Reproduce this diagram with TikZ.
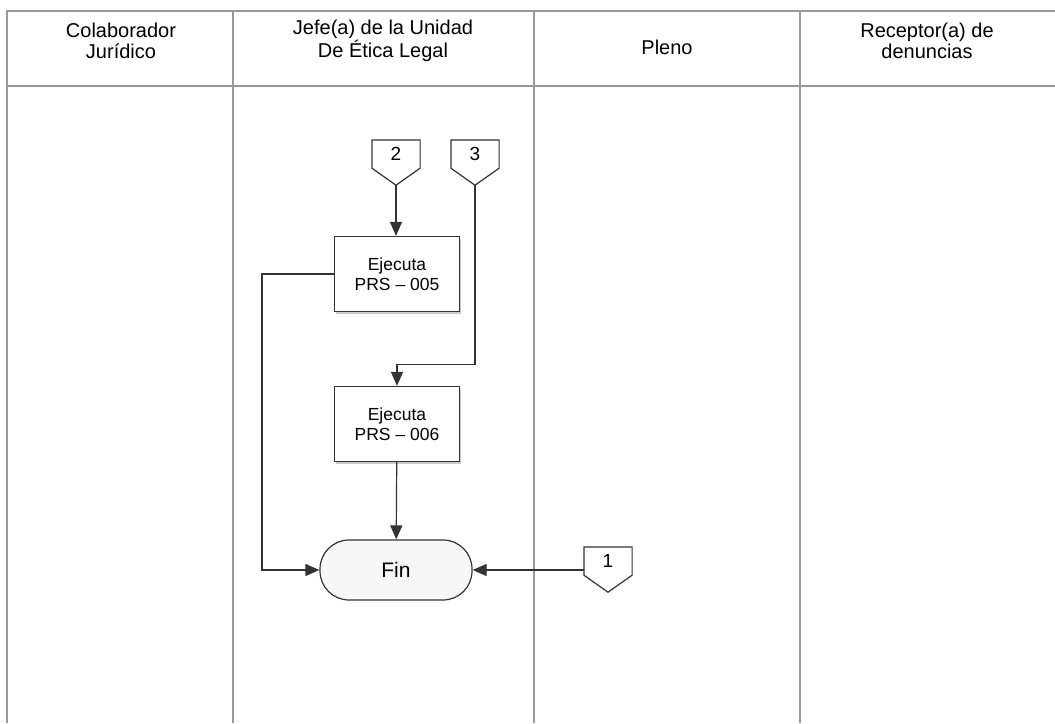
\documentclass[tikz,border=0pt]{standalone}
\usepackage{fontspec}
\setmainfont{Liberation Sans}
\usetikzlibrary{arrows.meta,shadows}

\begin{document}
\begin{tikzpicture}[x=1pt,y=-1pt,line width=1.2pt,
  lane/.style={draw=gray!80,line width=1.7pt},
  head/.style={align=center,font=\fontsize{20}{21}\selectfont},
  task/.style={draw=black!80,fill=white,minimum width=125pt,minimum height=75pt,
    align=center,font=\fontsize{17.5}{20}\selectfont,
    drop shadow={shadow xshift=1.5pt,shadow yshift=-2pt,fill=gray!80}},
  terminal/.style={draw=black!80,fill=gray!6,rounded corners=29pt,
    minimum width=152pt,minimum height=60pt,font=\fontsize{21}{24}\selectfont},
  offpage/.style={anchor=north,inner sep=0pt,minimum width=47pt,minimum height=27pt,
    font=\fontsize{19}{22}\selectfont},
  flow/.style={draw=black!80,-{Triangle[length=14pt,width=12pt]}}]
 \useasboundingbox (0,0) rectangle (1055,723);
 % lanes
 \draw[lane] (1055,11) -- (7,11) -- (7,723);
 \draw[lane] (7,86) -- (1055,86);
 \foreach \x in {233,534,800} \draw[lane] (\x,11) -- (\x,723);
 \node[head] (hcol) at (121,41) {Colaborador\\Jurídico};
 \node[head] (hjefe) at (383,41) {Jefe(a) de la Unidad\\De Ética Legal};
 \node[head] (hpleno) at (667,47) {Pleno};
 \node[head] (hrec) at (927,41) {Receptor(a) de\\denuncias};
 % off-page connectors
 \node[offpage] (c2) at (396,140) {2};
 \node[offpage] (c3) at (475,140) {3};
 \node[offpage] (c1) at (608,547) {1};
 \foreach \c in {c1,c2,c3} {
   \coordinate (\c tip) at ([yshift=-17pt]\c.south);
   \draw[black!80] (\c.north west) -- (\c.north east) -- (\c.south east)
     -- (\c tip) -- (\c.south west) -- cycle;
 }
 % tasks
 \node[task] (t005) at (397,274) {Ejecuta\\PRS -- 005};
 \node[task] (t006) at (397,424) {Ejecuta\\PRS -- 006};
 \node[terminal] (fin) at (396,570) {Fin};
 % flows
 \draw[flow] (c2tip) -- (c2tip |- t005.north);
 \draw[flow] (c3tip) -- ++(0,179) -| (t006.north);
 \draw[flow] (t006) -- (fin);
 \draw[flow] (t005.west) -- ++(-72,0) |- (fin.west);
 \draw[flow] (fin.east -| c1.west) -- (fin.east);
\end{tikzpicture}
\end{document}
